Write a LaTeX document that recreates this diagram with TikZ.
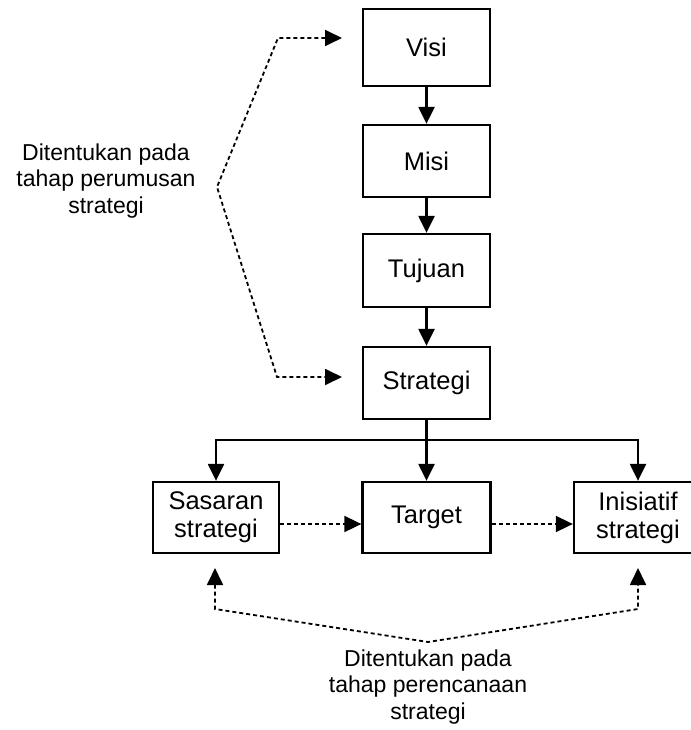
\documentclass[tikz,border=0pt]{standalone}
\usepackage{fontspec}
\setmainfont{Liberation Sans}
\usetikzlibrary{arrows.meta}
\begin{document}
\begin{tikzpicture}[x=1pt,y=-1pt,
 box/.style={draw, line width=2.3pt, minimum width=127pt, minimum height=72pt, inner sep=0pt, font=\fontsize{25.5}{28}\selectfont, align=center},
 solidarrow/.style={line width=2.3pt, -{Triangle[length=17pt,width=16pt]}},
 solidline/.style={line width=2.3pt},
 dotline/.style={line width=1.8pt, dash pattern=on 4pt off 3pt},
 dotarrow/.style={dotline, -{Triangle[length=17pt,width=16pt]}},
 dotboth/.style={dotline, {Triangle[length=17pt,width=16pt]}-{Triangle[length=17pt,width=16pt]}},
 lbl/.style={align=center, font=\fontsize{23}{26.5}\selectfont, inner sep=0pt}]
\useasboundingbox (0,0) rectangle (690,730);
\node[box, minimum height=77pt] (visi) at (426.5,47.5) {Visi};
\node[box] (misi) at (426.5,161) {Misi};
\node[box, minimum height=73pt] (tuj) at (426.5,270.5) {Tujuan};
\node[box] (strat) at (426.5,383) {Strategi};
\node[box, minimum width=126pt, minimum height=71pt] (sas) at (216,517.5) {Sasaran\\strategi};
\node[box, minimum width=128pt, minimum height=71pt] (targ) at (426.5,517.5) {Target};
\node[box, minimum width=128pt, minimum height=71pt] (ini) at (638,517.5) {Inisiatif\\strategi};
\node[lbl] (l1) at (106,181) {Ditentukan pada\\tahap perumusan\\strategi};
\node[lbl] (l2) at (428,687) {Ditentukan pada\\tahap perencanaan\\strategi};
% solid arrows
\draw[solidarrow] (visi.south) -- (misi.north);
\draw[solidarrow] (misi.south) -- (tuj.north);
\draw[solidarrow] (tuj.south) -- (strat.north);
\coordinate (br) at (426.5,440);
\draw[solidline] (strat.south) -- (br);
\draw[solidarrow] (br) -| (sas.north);
\draw[solidarrow] (br) -- (targ.north);
\draw[solidarrow] (br) -| (ini.north);
% dotted arrows
\coordinate (hy) at (0,524);
\draw[dotarrow] (sas.east |- hy) -- (targ.west |- hy);
\draw[dotarrow] (targ.east |- hy) -- (ini.west |- hy);
\coordinate (a1) at (342,38);
\coordinate (a2) at (278,38);
\coordinate (a3) at (217,187);
\coordinate (a4) at (277,377);
\coordinate (a5) at (342,377);
\draw[dotboth] (a1) -- (a2) -- (a3) -- (a4) -- (a5);
\coordinate (b1) at (215,568);
\coordinate (b2) at (215,609);
\coordinate (b3) at (428,642);
\coordinate (b4) at (638,609);
\coordinate (b5) at (638,568);
\draw[dotboth] (b1) -- (b2) -- (b3) -- (b4) -- (b5);
\end{tikzpicture}
\end{document}
